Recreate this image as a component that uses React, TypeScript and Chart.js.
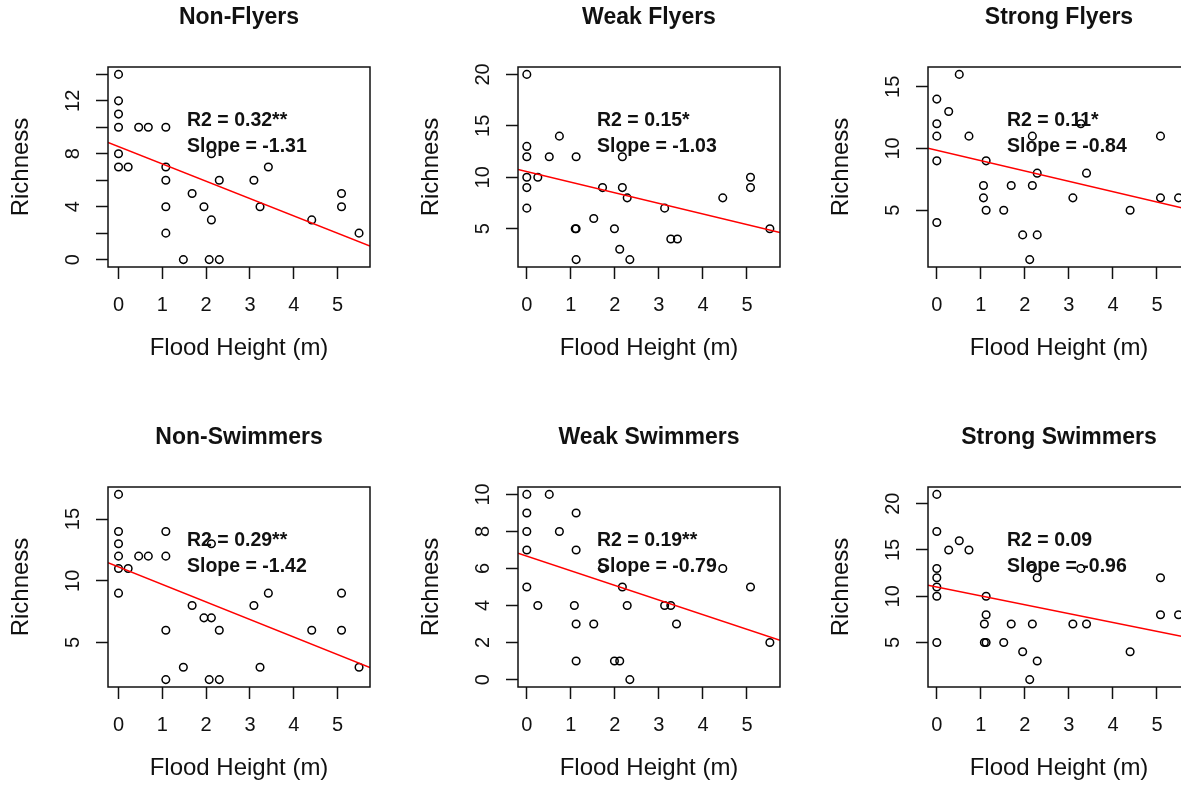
import React, { useEffect, useRef } from 'react';
import { Chart, registerables } from 'chart.js';

Chart.register(...registerables);

const FONT = '"Liberation Sans", Arial, Helvetica, sans-serif';

// ---------------- data ----------------
const panelTitles = ['Non-Flyers', 'Weak Flyers', 'Strong Flyers', 'Non-Swimmers', 'Weak Swimmers', 'Strong Swimmers'];

const nonFlyersX = [0, 0, 0, 0, 0, 0, 0.22, 0.46, 0.68, 1.08, 1.08, 1.08, 1.08, 1.08, 1.48, 1.68, 1.95, 2.12, 2.12, 2.07, 2.3, 2.3, 3.09, 3.23, 3.42, 4.41, 5.09, 5.09, 5.49];
const nonFlyersY = [14, 12, 11, 10, 8, 7, 7, 10, 10, 10, 7, 6, 4, 2, 0, 5, 4, 8, 3, 0, 0, 6, 6, 4, 7, 3, 5, 4, 2];

const weakFlyersX = [0, 0, 0, 0, 0, 0, 0.25, 0.51, 0.74, 1.12, 1.1, 1.12, 1.12, 1.52, 1.72, 1.99, 2.11, 2.17, 2.17, 2.28, 2.34, 3.13, 3.27, 3.42, 4.45, 5.08, 5.08, 5.52];
const weakFlyersY = [20, 13, 12, 10, 9, 7, 10, 12, 14, 12, 5, 5, 2, 6, 9, 5, 3, 12, 9, 8, 2, 7, 4, 4, 8, 10, 9, 5];

const strongFlyersX = [0, 0, 0, 0, 0, 0.27, 0.51, 0.73, 1.12, 1.06, 1.06, 1.12, 1.52, 1.69, 1.95, 2.17, 2.17, 2.11, 2.28, 2.28, 3.09, 3.27, 3.4, 4.39, 5.08, 5.08, 5.49];
const strongFlyersY = [14, 12, 11, 9, 4, 13, 16, 11, 9, 7, 6, 5, 5, 7, 3, 11, 7, 1, 3, 8, 6, 12, 8, 5, 11, 6, 6];

const nonSwimmersX = [0, 0, 0, 0, 0, 0, 0.22, 0.46, 0.68, 1.08, 1.08, 1.08, 1.08, 1.48, 1.68, 1.95, 2.12, 2.12, 2.07, 2.3, 2.3, 3.09, 3.23, 3.42, 4.41, 5.09, 5.09, 5.49];
const nonSwimmersY = [17, 14, 13, 12, 11, 9, 11, 12, 12, 14, 12, 6, 2, 3, 8, 7, 7, 13, 2, 2, 6, 8, 3, 9, 6, 9, 6, 3];

const weakSwimmersX = [0, 0, 0, 0, 0, 0.25, 0.51, 0.74, 1.12, 1.12, 1.08, 1.12, 1.12, 1.52, 1.72, 1.99, 2.11, 2.17, 2.28, 2.34, 3.13, 3.27, 3.4, 4.45, 5.08, 5.52];
const weakSwimmersY = [10, 9, 8, 7, 5, 4, 10, 8, 9, 7, 4, 3, 1, 3, 6, 1, 1, 5, 4, 0, 4, 4, 3, 6, 5, 2];

const strongSwimmersX = [0, 0, 0, 0, 0, 0, 0, 0.27, 0.51, 0.73, 1.12, 1.12, 1.08, 1.08, 1.12, 1.52, 1.69, 1.95, 2.17, 2.17, 2.11, 2.28, 2.28, 3.09, 3.27, 3.4, 4.39, 5.08, 5.08, 5.49];
const strongSwimmersY = [21, 17, 13, 12, 11, 10, 5, 15, 16, 15, 10, 8, 7, 5, 5, 5, 7, 4, 13, 7, 1, 12, 3, 7, 13, 7, 4, 12, 8, 8];

const seriesX = [nonFlyersX, weakFlyersX, strongFlyersX, nonSwimmersX, weakSwimmersX, strongSwimmersX];
const seriesY = [nonFlyersY, weakFlyersY, strongFlyersY, nonSwimmersY, weakSwimmersY, strongSwimmersY];

const r2Labels = ['R2 = 0.32**', 'R2 = 0.15*', 'R2 = 0.11*', 'R2 = 0.29**', 'R2 = 0.19**', 'R2 = 0.09'];
const slopeLabels = ['Slope = -1.31', 'Slope = -1.03', 'Slope = -0.84', 'Slope = -1.42', 'Slope = -0.79', 'Slope = -0.96'];
const fitIntercepts = [8.54, 10.55, 9.86, 11.13, 6.66, 11.0];
const fitSlopes = [-1.31, -1.03, -0.84, -1.42, -0.79, -0.96];

const xTickValues = [0, 1, 2, 3, 4, 5];
const yTickValues = [
  [0, 2, 4, 6, 8, 10, 12, 14],
  [5, 10, 15, 20],
  [5, 10, 15],
  [5, 10, 15],
  [0, 2, 4, 6, 8, 10],
  [5, 10, 15, 20],
];
const yTickLabelled = [
  [0, 4, 8, 12],
  [5, 10, 15, 20],
  [5, 10, 15],
  [5, 10, 15],
  [0, 2, 4, 6, 8, 10],
  [5, 10, 15, 20],
];
const xRanges = [[-0.24, 5.74], [-0.2, 5.75], [-0.2, 5.75], [-0.24, 5.74], [-0.2, 5.75], [-0.2, 5.75]];
const yRanges = [[-0.56, 14.56], [1.28, 20.72], [0.4, 16.6], [1.4, 17.6], [-0.4, 10.4], [0.2, 21.8]];

const xAxisTitle = 'Flood Height (m)';
const yAxisTitle = 'Richness';

// ---------------- layout ----------------
const PANEL_W = 410;
const PANEL_H = 420;
const LINE_W = 1.5;

const rStylePlugin = {
  id: 'rStyle',
  afterDatasetsDraw(chart: any, _args: any, opts: any) {
    const { ctx, chartArea: a } = chart;
    ctx.save();
    ctx.strokeStyle = '#111';
    ctx.lineWidth = LINE_W;
    ctx.strokeRect(a.left, a.top, a.right - a.left, a.bottom - a.top);
    ctx.fillStyle = '#111';
    ctx.font = `bold 19.5px ${FONT}`;
    ctx.textAlign = 'left';
    ctx.textBaseline = 'middle';
    const lx = (a.left + a.right) / 2 - 52;
    ctx.fillText(opts.line1, lx, a.top + 54);
    ctx.fillText(opts.line2, lx, a.top + 80);
    ctx.restore();
  },
};

function Panel({ idx }: { idx: number }) {
  const ref = useRef<HTMLCanvasElement | null>(null);
  useEffect(() => {
    if (!ref.current) return;
    const [xmin, xmax] = xRanges[idx];
    const [ymin, ymax] = yRanges[idx];
    const a = fitIntercepts[idx];
    const b = fitSlopes[idx];
    const pts = seriesX[idx].map((x, i) => ({ x, y: seriesY[idx][i] }));
    const fit = [
      { x: xmin, y: a + b * xmin },
      { x: xmax, y: a + b * xmax },
    ];
    const gridOpts = {
      display: true,
      drawOnChartArea: false,
      drawTicks: true,
      tickLength: 12,
      tickWidth: LINE_W,
      tickColor: '#111',
      color: '#111',
    };
    const chart = new Chart(ref.current, {
      type: 'scatter',
      data: {
        datasets: [
          {
            data: fit,
            showLine: true,
            borderColor: '#ff0000',
            borderWidth: 1.5,
            pointRadius: 0,
            fill: false,
          },
          {
            data: pts,
            pointStyle: 'circle',
            pointRadius: 3.8,
            borderWidth: 1.5,
            borderColor: '#000',
            backgroundColor: 'rgba(0,0,0,0)',
          },
        ],
      },
      options: {
        animation: false,
        responsive: false,
        devicePixelRatio: 1,
        events: [],
        layout: { padding: { left: 0, right: 40, top: 0, bottom: 53 } },
        plugins: {
          legend: { display: false },
          tooltip: { enabled: false },
          title: {
            display: true,
            text: panelTitles[idx],
            fullSize: false,
            color: '#111',
            font: { family: FONT, size: 23, weight: 'bold', lineHeight: 1 },
            padding: { top: 6, bottom: 38 },
          },
          rStyle: { line1: r2Labels[idx], line2: slopeLabels[idx] },
        } as any,
        scales: {
          x: {
            type: 'linear',
            position: 'bottom',
            min: xmin,
            max: xmax,
            afterBuildTicks: (s: any) => {
              s.ticks = xTickValues.map((v) => ({ value: v }));
            },
            afterFit: (s: any) => {
              s.height = 100;
            },
            grid: gridOpts,
            border: { display: false },
            ticks: {
              autoSkip: false,
              maxRotation: 0,
              minRotation: 0,
              padding: 14,
              color: '#111',
              font: { family: FONT, size: 20 },
              callback: (v: any) => String(v),
            },
            title: {
              display: true,
              text: xAxisTitle,
              color: '#111',
              font: { family: FONT, size: 24, lineHeight: 1 },
              padding: { top: 0, bottom: 6.9 },
            },
          },
          y: {
            type: 'linear',
            position: 'left',
            min: ymin,
            max: ymax,
            afterBuildTicks: (s: any) => {
              s.ticks = yTickValues[idx].map((v) => ({ value: v }));
            },
            afterFit: (s: any) => {
              s.width = 108;
            },
            grid: gridOpts,
            border: { display: false },
            ticks: {
              autoSkip: false,
              minRotation: 90,
              maxRotation: 90,
              crossAlign: 'center',
              padding: 11.5,
              color: '#111',
              font: { family: FONT, size: 20 },
              callback: (v: any) => (yTickLabelled[idx].includes(v) ? String(v) : ''),
            },
            title: {
              display: true,
              text: yAxisTitle,
              color: '#111',
              font: { family: FONT, size: 24, lineHeight: 1 },
              padding: { top: 9.2, bottom: 0 },
            },
          },
        } as any,
      },
      plugins: [rStylePlugin],
    } as any);
    return () => chart.destroy();
  }, [idx]);
  const col = idx % 3;
  const row = Math.floor(idx / 3);
  return (
    <canvas
      ref={ref}
      width={PANEL_W}
      height={PANEL_H}
      style={{ position: 'absolute', left: col * PANEL_W, top: row * PANEL_H, width: PANEL_W, height: PANEL_H }}
    />
  );
}

export default function App() {
  return (
    <div
      style={{
        position: 'fixed',
        left: 0,
        top: 0,
        width: 1181,
        height: 786,
        overflow: 'hidden',
        background: '#fff',
      }}
    >
      {panelTitles.map((_, i) => (
        <Panel key={i} idx={i} />
      ))}
    </div>
  );
}
